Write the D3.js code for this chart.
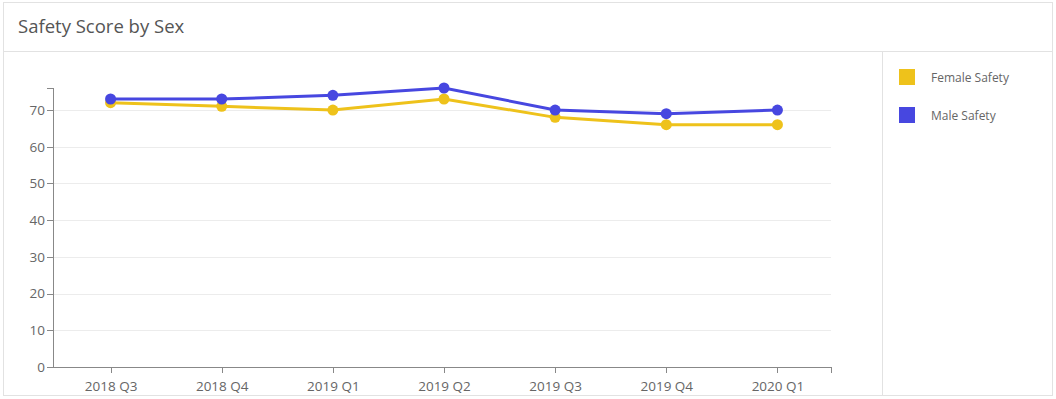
<!DOCTYPE html>
<meta charset="utf-8">
<style>
    body {
        margin: 0;
        background: #fff;
    }
    svg {
        font-family: "Open Sans", sans-serif;
    }
    .axis path,
    .axis line {
        fill: none;
        stroke: #888;
        shape-rendering: crispEdges;
    }
    .axis text {
        font-family: "Open Sans", sans-serif;
        font-size: 13.5px;
        fill: #666;
    }
    .grid line {
        stroke: #ececec;
        shape-rendering: crispEdges;
    }
    .frame {
        fill: none;
        stroke: #e2e2e2;
        shape-rendering: crispEdges;
    }
</style>
<body>
<script src="https://cdn.jsdelivr.net/npm/d3@7"></script>
<script>
    const quarters = ['2018 Q3', '2018 Q4', '2019 Q1', '2019 Q2', '2019 Q3', '2019 Q4', '2020 Q1'];
    const femaleSafety = [72, 71, 70, 73, 68, 66, 66];
    const maleSafety = [73, 73, 74, 76, 70, 69, 70];
    const yTicks = [0, 10, 20, 30, 40, 50, 60, 70];

    const series = [
        {name: 'Female Safety', values: femaleSafety, color: '#eec21b'},
        {name: 'Male Safety', values: maleSafety, color: '#4747e0'}
    ];

    const width = 1056, height = 399;
    const plot = {left: 53, right: 831, top: 88, bottom: 367};

    const svg = d3.select('body').append('svg')
        .attr('width', width)
        .attr('height', height);

    // card frame
    svg.append('rect').attr('class', 'frame')
        .attr('x', 3.5).attr('y', 2.5).attr('width', 1049).attr('height', 393);
    svg.append('line').attr('class', 'frame')
        .attr('x1', 3.5).attr('x2', 1052.5).attr('y1', 51.5).attr('y2', 51.5);
    svg.append('line').attr('class', 'frame')
        .attr('x1', 882.5).attr('x2', 882.5).attr('y1', 51.5).attr('y2', 395.5);

    svg.append('text')
        .attr('x', 18).attr('y', 33)
        .style('font-size', '18.5px')
        .style('fill', '#555')
        .text('Safety Score by Sex');

    const x = d3.scalePoint()
        .domain(quarters)
        .range([plot.left + 2, plot.right + 2])
        .padding(0.5);

    const y = d3.scaleLinear()
        .domain([0, d3.max(maleSafety)])
        .range([plot.bottom, plot.top]);

    // gridlines
    svg.append('g').attr('class', 'grid')
        .selectAll('line')
        .data(yTicks.slice(1))
        .enter().append('line')
        .attr('x1', plot.left).attr('x2', plot.right)
        .attr('y1', d => Math.round(y(d)) + 0.5)
        .attr('y2', d => Math.round(y(d)) + 0.5);

    const xAxis = svg.append('g').attr('class', 'x axis')
        .attr('transform', `translate(0,${plot.bottom})`)
        .call(d3.axisBottom(x).tickSizeOuter(0))
        .call(g => g.selectAll('text').attr('dy', '1.1em'));
    // keep the axis line on the plot edges, with the small end ticks
    xAxis.select('.domain')
        .attr('d', `M${plot.left},0.5H${plot.right + 0.5}V6`);

    svg.append('g').attr('class', 'y axis')
        .attr('transform', `translate(${plot.left},0)`)
        .call(d3.axisLeft(y).tickValues(yTicks).tickSizeOuter(6))
        .call(g => g.selectAll('text').attr('x', -8));

    const line = d3.line()
        .x((d, i) => x(quarters[i]))
        .y(d => y(d));

    const groups = svg.selectAll('.series')
        .data(series)
        .enter().append('g')
        .attr('class', 'series');

    groups.append('path')
        .attr('d', d => line(d.values))
        .style('fill', 'none')
        .style('stroke', d => d.color)
        .style('stroke-width', 3);

    groups.selectAll('circle')
        .data(d => d.values.map(v => ({v: v, color: d.color})))
        .enter().append('circle')
        .attr('cx', (d, i) => x(quarters[i]))
        .attr('cy', d => y(d.v))
        .attr('r', 5.5)
        .style('fill', d => d.color);

    // legend
    const legend = svg.selectAll('.legend')
        .data(series)
        .enter().append('g')
        .attr('class', 'legend')
        .attr('transform', (d, i) => `translate(899,${69 + i * 38})`);

    legend.append('rect')
        .attr('width', 16).attr('height', 16)
        .style('fill', d => d.color);

    legend.append('text')
        .attr('x', 32).attr('y', 9)
        .attr('dy', '.35em')
        .style('font-size', '12px')
        .style('fill', '#666')
        .text(d => d.name);
</script>
</body>
</html>
